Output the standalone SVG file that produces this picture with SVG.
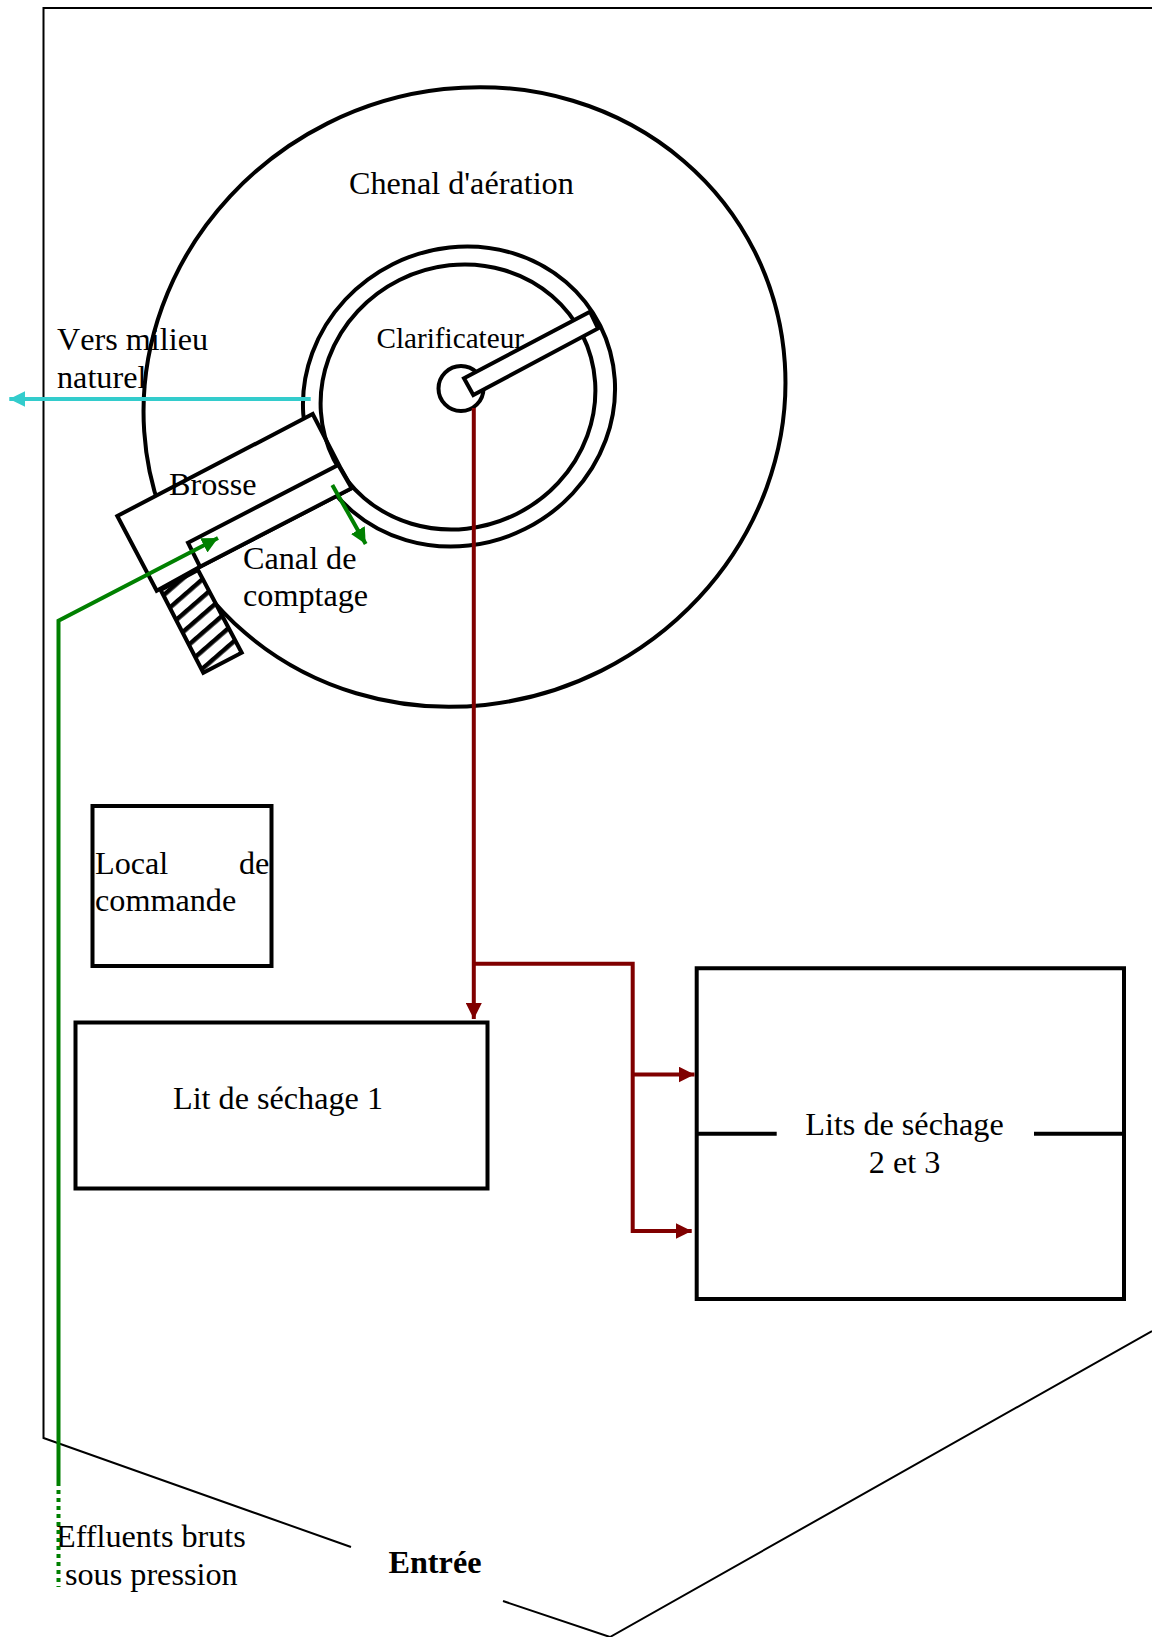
<svg xmlns="http://www.w3.org/2000/svg" width="1152" height="1637" viewBox="0 0 1152 1637">
<style>
.s{fill:none;stroke:#000;stroke-width:4}
.w{fill:#fff;stroke:#000;stroke-width:4}
.f{fill:none;stroke:#000;stroke-width:2}
.g{fill:none;stroke:#008000;stroke-width:4}
.r{fill:none;stroke:#800000;stroke-width:4}
.c{fill:none;stroke:#33cccc;stroke-width:4}
text{font-family:"Liberation Serif","Times New Roman",serif;font-size:32.200px;fill:#000}
</style>
<defs>
<marker id="ag" markerUnits="userSpaceOnUse" markerWidth="16" markerHeight="16" refX="16" refY="8" orient="auto"><path d="M0 0L16 8L0 16Z" fill="#008000"/></marker>
<marker id="ar" markerUnits="userSpaceOnUse" markerWidth="16" markerHeight="16" refX="16" refY="8" orient="auto"><path d="M0 0L16 8L0 16Z" fill="#800000"/></marker>
<marker id="ac" markerUnits="userSpaceOnUse" markerWidth="16" markerHeight="16" refX="16" refY="8" orient="auto"><path d="M0 0L16 8L0 16Z" fill="#33cccc"/></marker>
<pattern id="h" patternUnits="userSpaceOnUse" width="13.500" height="13.500" patternTransform="rotate(-41 160 590)"><rect width="13.500" height="13.500" fill="#fff"/><rect y="0" width="13.500" height="4.500" fill="#000"/></pattern>
</defs>
<g id="site"><path class="f" d="M1152 8H43.500V1438L351 1547M503 1601L610 1637L1152 1331"/></g>
<g id="chenal"><ellipse class="w" cx="464.500" cy="397" rx="324.600" ry="306" transform="rotate(-26.600 464.500 397)"/><text x="349" y="194">Chenal d'aération</text></g>
<g id="anneau"><ellipse class="w" cx="459" cy="396.500" rx="158" ry="148" transform="rotate(-26.600 459 396.500)"/></g>
<g id="brosse"><path class="w" d="M117.300 516L312.700 414L340 467L352 488L200 566.700L156.700 590.700Z"/><text x="169" y="495">Brosse</text></g>
<g id="hachures"><path d="M160.700 590L198 570L241.700 652.700L203.300 672.700Z" fill="url(#h)" stroke="#000" stroke-width="4"/></g>
<g id="clarificateur"><ellipse class="s" cx="458" cy="397" rx="139" ry="130.800" transform="rotate(-26.600 458 397)"/><text x="376.500" y="348" style="font-size:29.200px">Clarificateur</text></g>
<g id="canal"><path class="w" d="M188 542.700L338.300 465L351.700 488.300L200 566.700Z"/><text x="243" y="569">Canal de</text><text x="243" y="606">comptage</text></g>
<g id="centre"><circle class="w" cx="461" cy="388.500" r="22.500"/></g>
<g id="pont"><path class="w" d="M464 378.300L590 311.700L598 328.500L473.300 395Z"/></g>
<g id="local"><rect class="s" x="92.500" y="806" width="179" height="160"/><text y="874"><tspan x="95">Local</tspan><tspan x="239">de</tspan></text><text x="95" y="911">commande</text></g>
<g id="lit1"><rect class="s" x="75.500" y="1022.500" width="412" height="166"/><text x="173" y="1109">Lit de séchage 1</text></g>
<g id="lits23"><path class="s" d="M696.700 968.300H1124V1299H696.700ZM695 1133.700H776.700M1034 1133.700H1124"/><text x="904.500" y="1135" text-anchor="middle">Lits de séchage</text><text x="904.500" y="1173" text-anchor="middle">2 et 3</text></g>
<g id="labels"><text x="57" y="350" style="font-kerning:none">Vers milieu</text><text x="57" y="388">naturel</text><text x="56" y="1547">Effluents bruts</text><text x="65" y="1585">sous pression</text><text x="388.500" y="1573" style="font-weight:bold">Entrée</text></g>
<g id="connectors">
<path class="c" d="M310.700 399H9.300" marker-end="url(#ac)"/>
<path class="g" d="M58.500 1482V620.700L218 538" marker-end="url(#ag)"/>
<path class="g" d="M58.500 1482V1587" stroke-dasharray="4 4"/>
<path class="g" d="M332.300 485L365.700 544" marker-end="url(#ag)"/>
<path class="r" d="M473.800 408V1019" marker-end="url(#ar)"/>
<path class="r" d="M473.800 963.700H632.700V1231H691.700" marker-end="url(#ar)"/>
<path class="r" d="M632.700 1074.500H694.500" marker-end="url(#ar)"/>
</g>
</svg>
